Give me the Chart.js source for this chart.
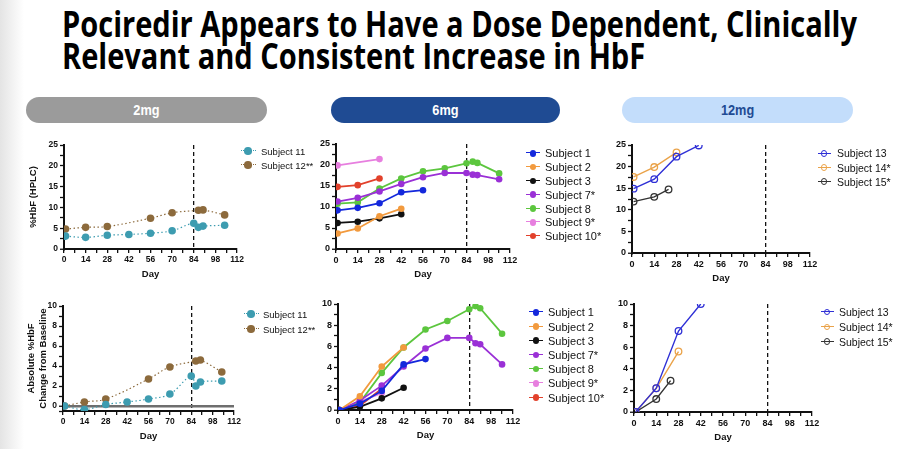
<!DOCTYPE html>
<html>
<head>
<meta charset="utf-8">
<script src="https://cdn.jsdelivr.net/npm/chart.js@4.4.1/dist/chart.umd.min.js"></script>
<style>
  html, body { margin: 0; padding: 0; background: #fff; }
  body { width: 907px; height: 449px; position: relative; overflow: hidden; font-family: "Liberation Sans", Arial, sans-serif; }
  .edge { position: absolute; left: 0; top: 0; width: 24px; height: 449px; background: linear-gradient(to right, #e4e4e4, #ffffff); }
  h1 { position: absolute; left: 62px; top: 8px; margin: 0; font: 700 35px/32.3px "Open Sans", sans-serif; color: #000; white-space: nowrap; transform-origin: 0 0; }
  h1 span { display: block; }
  .pill { position: absolute; top: 97px; height: 26px; border-radius: 13px; text-align: center; font: 700 15px/26px "Liberation Sans", Arial, sans-serif; }
  .pill span { display: inline-block; transform: scaleX(0.85); }
  .panel { position: absolute; }
  .lg { position: absolute; }
  .lg .ln { position: absolute; height: 0; }
  .lg .dot { position: absolute; border-radius: 50%; box-sizing: border-box; }
  .lg .tx { position: absolute; white-space: nowrap; color: #111; transform: translateY(-50%); }
</style>
</head>
<body>
<div class="edge"></div>
<h1 id="title"><span>Pociredir Appears to Have a Dose Dependent, Clinically</span><span>Relevant and Consistent Increase in HbF</span></h1>

<div class="pill" style="left:26px;width:241px;background:#9b9b9b;color:#fff;"><span>2mg</span></div>
<div class="pill" style="left:331px;width:229px;background:#1f4b93;color:#fff;"><span>6mg</span></div>
<div class="pill" style="left:622px;width:231px;background:#c3ddfb;color:#1f4b93;"><span>12mg</span></div>

<div class="panel" style="left:24px;top:137px;width:223px;height:147px;"><canvas id="tl"></canvas></div>
<div class="panel" style="left:22px;top:298px;width:222px;height:148px;"><canvas id="bl"></canvas></div>
<div class="panel" style="left:306px;top:136px;width:214px;height:148px;"><canvas id="tm"></canvas></div>
<div class="panel" style="left:308px;top:296px;width:215px;height:149px;"><canvas id="bm"></canvas></div>
<div class="panel" style="left:602px;top:137px;width:218px;height:151px;"><canvas id="tr"></canvas></div>
<div class="panel" style="left:604px;top:296px;width:218px;height:151px;"><canvas id="br"></canvas></div>
<div id="legends"></div>

<script>
// ---------- Data ----------
const X_LABELS = [0, 14, 28, 42, 56, 70, 84, 98, 112];
const DOSE_END_DAY = 84;

// 2mg cohort
const S11_DAYS = [1, 14, 28, 42, 56, 70, 84, 87, 90, 104];
const S11_HBF  = [3.1, 2.8, 3.3, 3.5, 3.8, 4.4, 6.2, 5.2, 5.5, 5.7];
const S11_CHG  = [0, -0.35, 0.15, 0.4, 0.7, 1.2, 3.0, 2.0, 2.4, 2.5];
const S12_DAYS = [1, 14, 28, 56, 70, 87, 90, 104];
const S12_HBF  = [4.8, 5.2, 5.4, 7.4, 8.7, 9.3, 9.4, 8.2];
const S12_CHG  = [0, 0.4, 0.7, 2.7, 3.9, 4.5, 4.6, 3.4];

// 6mg cohort
const DAYS_6MG = [1, 14, 28, 42, 56, 70, 84, 88, 91, 105];
const S1_HBF  = [9.2, 9.8, 10.9, 13.5, 14.0];
const S1_CHG  = [0, 0.6, 1.8, 4.3, 4.8];
const S2_HBF  = [3.7, 4.9, 7.8, 9.6];
const S2_CHG  = [0, 1.3, 4.1, 5.9];
const S3_HBF  = [6.2, 6.5, 7.3, 8.3];
const S3_CHG  = [0, 0.3, 1.1, 2.1];
const S7_HBF  = [11.3, 12.2, 13.7, 15.5, 17.1, 18.1, 18.1, 17.7, 17.6, 16.6];
const S7_CHG  = [0, 0.9, 2.3, 4.1, 5.8, 6.8, 6.8, 6.3, 6.2, 4.3];
const S8_HBF  = [10.8, 11.1, 14.4, 16.8, 18.5, 19.2, 20.4, 20.8, 20.5, 18.0];
const S8_CHG  = [0, 0.7, 3.5, 5.9, 7.6, 8.4, 9.5, 9.8, 9.6, 7.2];
const S9_HBF_DAYS = [1, 28];
const S9_HBF  = [19.9, 21.4];
const S9_CHG_DAYS = [1, 14, 28];
const S9_CHG  = [0, 0.8, 1.6];
const S10_HBF = [14.8, 15.2, 16.8];
const S10_CHG = [0, 0.4, 2.0];

// 12mg cohort
const S13_DAYS = [1, 14, 28, 42];
const S13_HBF  = [14.9, 17.1, 22.3, 24.9];
const S13_CHG  = [0, 2.2, 7.5, 10.0];
const S14_DAYS = [1, 14, 28];
const S14_HBF  = [17.6, 19.9, 23.3];
const S14_CHG  = [0, 2.2, 5.6];
const S15_DAYS = [1, 14, 23];
const S15_HBF  = [11.9, 13.0, 14.7];
const S15_CHG  = [0, 1.2, 2.9];

// ---------- Styling ----------
const FONT = '"Liberation Sans", Arial, sans-serif';
const INK = '#111';
const CLEAR = 'rgba(0,0,0,0)';

const pts = (days, vals) => vals.map((v, i) => ({ x: days[i], y: v }));
const isZero = (c) => !!(c.tick && Math.abs(c.tick.value) < 1e-9);

const dotted = (label, color, data) => ({
  label, data, borderColor: color, backgroundColor: color,
  borderWidth: 1.2, borderDash: [1.5, 2.5], tension: 0.4,
  pointRadius: 3.8, pointBorderWidth: 0, pointBackgroundColor: color,
});
const solid = (label, color, data) => ({
  label, data, borderColor: color, backgroundColor: color,
  borderWidth: 1.8, tension: 0,
  pointRadius: 3.3, pointBorderWidth: 0, pointBackgroundColor: color,
});
const hollow = (label, color, data) => ({
  label, data, borderColor: color, backgroundColor: CLEAR,
  borderWidth: 1.4, tension: 0,
  pointRadius: 3.3, pointBorderWidth: 1.3, pointBorderColor: color, pointBackgroundColor: CLEAR,
});

const C2 = { s11: '#3d9cb0', s12: '#8c6a3c' };
const C6 = ['#1428dc', '#f29a3e', '#111111', '#9a30d6', '#5cc63e', '#e77fdf', '#e2412b'];
const N6 = ['Subject 1', 'Subject 2', 'Subject 3', 'Subject 7*', 'Subject 8', 'Subject 9*', 'Subject 10*'];
const C12 = ['#2f30d6', '#eaa34a', '#333333'];
const N12 = ['Subject 13', 'Subject 14*', 'Subject 15*'];

// ---------- Chart options ----------
const bold = (size) => ({ family: FONT, size, weight: 'bold' });

// minor ticks every p.minor, plus the axis minimum when it is off-grid
function yTicks(p) {
  const out = [];
  const first = Math.ceil(p.yMin / p.minor - 1e-9);
  for (let n = first; n * p.minor <= p.yMax + 1e-9; n++) out.push({ value: +(n * p.minor).toFixed(3) });
  if (p.yMin < out[0].value) out.unshift({ value: p.yMin });
  return out;
}

function buildOptions(p) {
  return {
    responsive: true, maintainAspectRatio: false, animation: false,
    layout: { padding: { top: 8, right: 10, left: 0, bottom: 0 } },
    plugins: { legend: { display: false }, tooltip: { enabled: false } },
    scales: {
      x: {
        type: 'linear', min: 0, max: 112,
        afterFit: (s) => { s.height = 35; },
        ticks: {
          stepSize: 7, autoSkip: false, maxRotation: 0, padding: 2, color: INK, font: bold(p.tick),
          callback: (v) => (X_LABELS.includes(v) ? v : ''),
        },
        grid: {
          color: (c) => (c.tick && c.tick.value === DOSE_END_DAY ? INK : CLEAR),
          lineWidth: 1.3, tickColor: INK, tickLength: 4, tickWidth: 1.3,
        },
        border: { color: INK, width: 2, dash: [4, 3] },
        title: { display: true, text: 'Day', color: INK, font: bold(9.5), padding: { top: 2, bottom: 4 } },
      },
      y: {
        min: p.yMin, max: p.yMax,
        afterFit: (s) => { s.width = p.yW; },
        afterBuildTicks: (s) => { s.ticks = yTicks(p); },
        ticks: {
          autoSkip: false, padding: 2, color: INK, font: bold(p.tick),
          callback: (v) => (Math.abs(v % p.major) < 1e-6 ? v : ''),
        },
        grid: {
          color: (c) => (p.zeroLine && isZero(c) ? '#6e6e6e' : CLEAR),
          lineWidth: (c) => (isZero(c) ? 2.5 : 1),
          tickColor: INK, tickLength: 4, tickWidth: 1.3,
        },
        border: { color: INK, width: 2 },
        title: { display: !!p.yTitle, text: p.yTitle, color: INK, font: bold(9.5), padding: { top: 4, bottom: 2 } },
      },
    },
  };
}

function makeChart(id, datasets, p) {
  return new Chart(document.getElementById(id), { type: 'line', data: { datasets }, options: buildOptions(p) });
}

// ---------- 2mg ----------
makeChart('tl', [
  dotted('Subject 11', C2.s11, pts(S11_DAYS, S11_HBF)),
  dotted('Subject 12**', C2.s12, pts(S12_DAYS, S12_HBF)),
], { yMin: 0, yMax: 25, minor: 2.5, major: 5, yW: 40, tick: 8.5, yTitle: '%HbF (HPLC)' });

makeChart('bl', [
  dotted('Subject 11', C2.s11, pts(S11_DAYS, S11_CHG)),
  dotted('Subject 12**', C2.s12, pts(S12_DAYS, S12_CHG)),
], { yMin: -0.5, yMax: 10, minor: 1, major: 2, yW: 41, tick: 8.5, zeroLine: true,
     yTitle: ['Absolute %HbF', 'Change from Baseline'] });

// ---------- 6mg ----------
const HBF_6 = [S1_HBF, S2_HBF, S3_HBF, S7_HBF, S8_HBF, S9_HBF, S10_HBF];
const CHG_6 = [S1_CHG, S2_CHG, S3_CHG, S7_CHG, S8_CHG, S9_CHG, S10_CHG];
makeChart('tm', HBF_6.map((v, i) =>
  solid(N6[i], C6[i], pts(i === 5 ? S9_HBF_DAYS : DAYS_6MG, v))),
  { yMin: 0, yMax: 25, minor: 2.5, major: 5, yW: 30, tick: 9 });
makeChart('bm', CHG_6.map((v, i) =>
  solid(N6[i], C6[i], pts(i === 5 ? S9_CHG_DAYS : DAYS_6MG, v))),
  { yMin: 0, yMax: 10, minor: 1, major: 2, yW: 30, tick: 9 });

// ---------- 12mg ----------
const DAYS_12 = [S13_DAYS, S14_DAYS, S15_DAYS];
makeChart('tr', [S13_HBF, S14_HBF, S15_HBF].map((v, i) => hollow(N12[i], C12[i], pts(DAYS_12[i], v))),
  { yMin: 0, yMax: 25, minor: 2.5, major: 5, yW: 30, tick: 9 });
makeChart('br', [S13_CHG, S14_CHG, S15_CHG].map((v, i) => hollow(N12[i], C12[i], pts(DAYS_12[i], v))),
  { yMin: 0, yMax: 10, minor: 1, major: 2, yW: 30, tick: 9 });

// ---------- HTML legends ----------
function legend(names, colors, o) {
  const box = document.getElementById('legends');
  names.forEach((name, i) => {
    const cy = o.y0 + i * o.dy;
    const item = document.createElement('div');
    item.className = 'lg';
    const r = o.r;
    item.innerHTML =
      `<div class="ln" style="left:${o.cx - o.half}px;top:${cy - o.lw / 2}px;width:${o.half * 2}px;border-top:${o.lw}px ${o.dash || 'solid'} ${colors[i]}"></div>` +
      `<div class="dot" style="left:${o.cx - r}px;top:${cy - r}px;width:${r * 2}px;height:${r * 2}px;` +
      (o.hollow ? `border:1.3px solid ${colors[i]};background:#fff0` : `background:${colors[i]}`) + `"></div>` +
      `<div class="tx" style="left:${o.tx}px;top:${cy}px;font-size:${o.fs}px">${name}</div>`;
    box.appendChild(item);
  });
}
const N2 = ['Subject 11', 'Subject 12**'];
const C2L = [C2.s11, C2.s12];
legend(N2, C2L, { cx: 248, tx: 261, y0: 151, dy: 14, fs: 9.5, half: 7.5, lw: 1.2, dash: 'dotted', r: 3.8 });
legend(N2, C2L, { cx: 251, tx: 263, y0: 314, dy: 15, fs: 9.5, half: 7.5, lw: 1.2, dash: 'dotted', r: 3.8 });
legend(N6, C6, { cx: 533, tx: 545, y0: 153.3, dy: 13.8, fs: 11, half: 7, lw: 1.8, r: 3.3 });
legend(N6, C6, { cx: 536, tx: 548, y0: 312.3, dy: 14.2, fs: 11, half: 7, lw: 1.8, r: 3.3 });
legend(N12, C12, { cx: 824, tx: 837, y0: 153.3, dy: 14.2, fs: 10.5, half: 6.5, lw: 1.4, r: 3.3, hollow: true });
legend(N12, C12, { cx: 827, tx: 839, y0: 312, dy: 14.8, fs: 10.5, half: 6.5, lw: 1.4, r: 3.3, hollow: true });

// ---------- Fit the title to the slide width ----------
const title = document.getElementById('title');
const firstLine = title.querySelector('span');
const k = 795 / firstLine.getBoundingClientRect().width;
title.style.transform = `scaleX(${k})`;
</script>
</body>
</html>
